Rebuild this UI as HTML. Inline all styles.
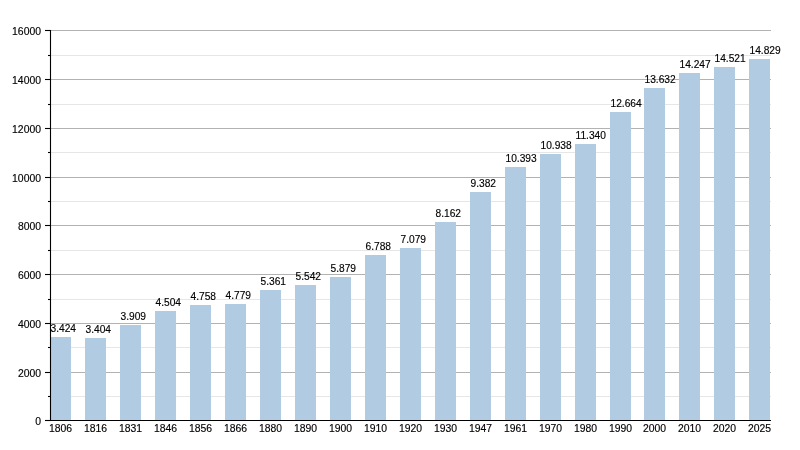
<!DOCTYPE html><html><head><meta charset="utf-8"><style>html,body{margin:0;padding:0;background:#fff;width:800px;height:450px;overflow:hidden}svg{display:block;will-change:transform}text{font-family:"Liberation Sans",sans-serif;font-size:10.4px;fill:#000;stroke:#000;stroke-width:0.15px}</style></head><body>
<svg width="800" height="450" viewBox="0 0 800 450">
<line x1="51.00" x2="771.00" y1="396.50" y2="396.50" stroke="#e6e6e6" stroke-width="1"/>
<line x1="51.00" x2="771.00" y1="372.50" y2="372.50" stroke="#b2b2b2" stroke-width="1"/>
<line x1="51.00" x2="771.00" y1="347.50" y2="347.50" stroke="#e6e6e6" stroke-width="1"/>
<line x1="51.00" x2="771.00" y1="323.50" y2="323.50" stroke="#b2b2b2" stroke-width="1"/>
<line x1="51.00" x2="771.00" y1="299.50" y2="299.50" stroke="#e6e6e6" stroke-width="1"/>
<line x1="51.00" x2="771.00" y1="274.50" y2="274.50" stroke="#b2b2b2" stroke-width="1"/>
<line x1="51.00" x2="771.00" y1="250.50" y2="250.50" stroke="#e6e6e6" stroke-width="1"/>
<line x1="51.00" x2="771.00" y1="225.50" y2="225.50" stroke="#b2b2b2" stroke-width="1"/>
<line x1="51.00" x2="771.00" y1="201.50" y2="201.50" stroke="#e6e6e6" stroke-width="1"/>
<line x1="51.00" x2="771.00" y1="177.50" y2="177.50" stroke="#b2b2b2" stroke-width="1"/>
<line x1="51.00" x2="771.00" y1="152.50" y2="152.50" stroke="#e6e6e6" stroke-width="1"/>
<line x1="51.00" x2="771.00" y1="128.50" y2="128.50" stroke="#b2b2b2" stroke-width="1"/>
<line x1="51.00" x2="771.00" y1="104.50" y2="104.50" stroke="#e6e6e6" stroke-width="1"/>
<line x1="51.00" x2="771.00" y1="79.50" y2="79.50" stroke="#b2b2b2" stroke-width="1"/>
<line x1="51.00" x2="771.00" y1="55.50" y2="55.50" stroke="#e6e6e6" stroke-width="1"/>
<line x1="51.00" x2="771.00" y1="30.50" y2="30.50" stroke="#b2b2b2" stroke-width="1"/>
<rect x="50.00" y="337.00" width="21.00" height="83.00" fill="#b1cbe3"/>
<rect x="85.00" y="338.00" width="21.00" height="82.00" fill="#b1cbe3"/>
<rect x="120.00" y="325.00" width="21.00" height="95.00" fill="#b1cbe3"/>
<rect x="155.00" y="311.00" width="21.00" height="109.00" fill="#b1cbe3"/>
<rect x="190.00" y="305.00" width="21.00" height="115.00" fill="#b1cbe3"/>
<rect x="225.00" y="304.00" width="21.00" height="116.00" fill="#b1cbe3"/>
<rect x="260.00" y="290.00" width="21.00" height="130.00" fill="#b1cbe3"/>
<rect x="295.00" y="285.00" width="21.00" height="135.00" fill="#b1cbe3"/>
<rect x="330.00" y="277.00" width="21.00" height="143.00" fill="#b1cbe3"/>
<rect x="365.00" y="255.00" width="21.00" height="165.00" fill="#b1cbe3"/>
<rect x="400.00" y="248.00" width="21.00" height="172.00" fill="#b1cbe3"/>
<rect x="435.00" y="222.00" width="21.00" height="198.00" fill="#b1cbe3"/>
<rect x="470.00" y="192.00" width="21.00" height="228.00" fill="#b1cbe3"/>
<rect x="505.00" y="167.00" width="21.00" height="253.00" fill="#b1cbe3"/>
<rect x="540.00" y="154.00" width="21.00" height="266.00" fill="#b1cbe3"/>
<rect x="575.00" y="144.00" width="21.00" height="276.00" fill="#b1cbe3"/>
<rect x="610.00" y="112.00" width="21.00" height="308.00" fill="#b1cbe3"/>
<rect x="644.00" y="88.00" width="21.00" height="332.00" fill="#b1cbe3"/>
<rect x="679.00" y="73.00" width="21.00" height="347.00" fill="#b1cbe3"/>
<rect x="714.00" y="67.00" width="21.00" height="353.00" fill="#b1cbe3"/>
<rect x="749.00" y="59.00" width="21.00" height="361.00" fill="#b1cbe3"/>
<text x="50.50" y="332.00" style="font-size:10.2px">3.424</text>
<text x="85.50" y="333.00" style="font-size:10.2px">3.404</text>
<text x="120.50" y="320.00" style="font-size:10.2px">3.909</text>
<text x="155.50" y="306.00" style="font-size:10.2px">4.504</text>
<text x="190.50" y="300.00" style="font-size:10.2px">4.758</text>
<text x="225.50" y="299.00" style="font-size:10.2px">4.779</text>
<text x="260.50" y="285.00" style="font-size:10.2px">5.361</text>
<text x="295.50" y="280.00" style="font-size:10.2px">5.542</text>
<text x="330.50" y="272.00" style="font-size:10.2px">5.879</text>
<text x="365.50" y="250.00" style="font-size:10.2px">6.788</text>
<text x="400.50" y="243.00" style="font-size:10.2px">7.079</text>
<text x="435.50" y="217.00" style="font-size:10.2px">8.162</text>
<text x="470.50" y="187.00" style="font-size:10.2px">9.382</text>
<text x="505.50" y="162.00" style="font-size:10.2px">10.393</text>
<text x="540.50" y="149.00" style="font-size:10.2px">10.938</text>
<text x="575.50" y="139.00" style="font-size:10.2px">11.340</text>
<text x="610.50" y="107.00" style="font-size:10.2px">12.664</text>
<text x="644.50" y="83.00" style="font-size:10.2px">13.632</text>
<text x="679.50" y="68.00" style="font-size:10.2px">14.247</text>
<text x="714.50" y="62.00" style="font-size:10.2px">14.521</text>
<text x="749.50" y="54.00" style="font-size:10.2px">14.829</text>
<line x1="50.5" x2="50.5" y1="30" y2="421" stroke="#000" stroke-width="1.10"/>
<line x1="45" x2="771" y1="420.5" y2="420.5" stroke="#000" stroke-width="1.10"/>
<line x1="45" x2="51" y1="420.50" y2="420.50" stroke="#000" stroke-width="1.10"/>
<text x="41.00" y="424.90" text-anchor="end">0</text>
<line x1="48" x2="51" y1="396.50" y2="396.50" stroke="#000" stroke-width="1.10"/>
<line x1="45" x2="51" y1="372.50" y2="372.50" stroke="#000" stroke-width="1.10"/>
<text x="41.00" y="376.90" text-anchor="end">2000</text>
<line x1="48" x2="51" y1="347.50" y2="347.50" stroke="#000" stroke-width="1.10"/>
<line x1="45" x2="51" y1="323.50" y2="323.50" stroke="#000" stroke-width="1.10"/>
<text x="41.00" y="327.90" text-anchor="end">4000</text>
<line x1="48" x2="51" y1="299.50" y2="299.50" stroke="#000" stroke-width="1.10"/>
<line x1="45" x2="51" y1="274.50" y2="274.50" stroke="#000" stroke-width="1.10"/>
<text x="41.00" y="278.90" text-anchor="end">6000</text>
<line x1="48" x2="51" y1="250.50" y2="250.50" stroke="#000" stroke-width="1.10"/>
<line x1="45" x2="51" y1="225.50" y2="225.50" stroke="#000" stroke-width="1.10"/>
<text x="41.00" y="229.90" text-anchor="end">8000</text>
<line x1="48" x2="51" y1="201.50" y2="201.50" stroke="#000" stroke-width="1.10"/>
<line x1="45" x2="51" y1="177.50" y2="177.50" stroke="#000" stroke-width="1.10"/>
<text x="41.00" y="181.90" text-anchor="end">10000</text>
<line x1="48" x2="51" y1="152.50" y2="152.50" stroke="#000" stroke-width="1.10"/>
<line x1="45" x2="51" y1="128.50" y2="128.50" stroke="#000" stroke-width="1.10"/>
<text x="41.00" y="132.90" text-anchor="end">12000</text>
<line x1="48" x2="51" y1="104.50" y2="104.50" stroke="#000" stroke-width="1.10"/>
<line x1="45" x2="51" y1="79.50" y2="79.50" stroke="#000" stroke-width="1.10"/>
<text x="41.00" y="83.90" text-anchor="end">14000</text>
<line x1="48" x2="51" y1="55.50" y2="55.50" stroke="#000" stroke-width="1.10"/>
<line x1="45" x2="51" y1="30.50" y2="30.50" stroke="#000" stroke-width="1.10"/>
<text x="41.00" y="34.90" text-anchor="end">16000</text>
<text x="60.50" y="431.80" text-anchor="middle">1806</text>
<text x="95.50" y="431.80" text-anchor="middle">1816</text>
<text x="130.50" y="431.80" text-anchor="middle">1831</text>
<text x="165.50" y="431.80" text-anchor="middle">1846</text>
<text x="200.50" y="431.80" text-anchor="middle">1856</text>
<text x="235.50" y="431.80" text-anchor="middle">1866</text>
<text x="270.50" y="431.80" text-anchor="middle">1880</text>
<text x="305.50" y="431.80" text-anchor="middle">1890</text>
<text x="340.50" y="431.80" text-anchor="middle">1900</text>
<text x="375.50" y="431.80" text-anchor="middle">1910</text>
<text x="410.50" y="431.80" text-anchor="middle">1920</text>
<text x="445.50" y="431.80" text-anchor="middle">1930</text>
<text x="480.50" y="431.80" text-anchor="middle">1947</text>
<text x="515.50" y="431.80" text-anchor="middle">1961</text>
<text x="550.50" y="431.80" text-anchor="middle">1970</text>
<text x="585.50" y="431.80" text-anchor="middle">1980</text>
<text x="620.50" y="431.80" text-anchor="middle">1990</text>
<text x="654.50" y="431.80" text-anchor="middle">2000</text>
<text x="689.50" y="431.80" text-anchor="middle">2010</text>
<text x="724.50" y="431.80" text-anchor="middle">2020</text>
<text x="759.50" y="431.80" text-anchor="middle">2025</text>
</svg></body></html>
